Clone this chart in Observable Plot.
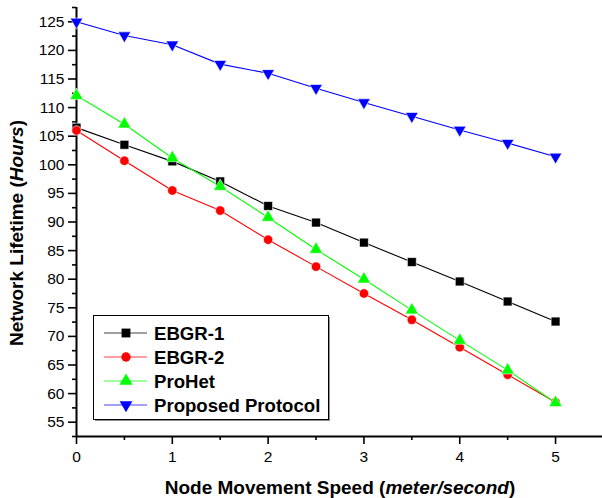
<!DOCTYPE html>
<html>
<head>
<meta charset="utf-8">
<script src="https://cdn.jsdelivr.net/npm/d3@7"></script>
<script src="https://cdn.jsdelivr.net/npm/@observablehq/plot@0.6"></script>
<style>
  html, body { margin: 0; padding: 0; background: #fff; overflow: hidden; }
  #chart { position: relative; width: 602px; height: 498px; }
</style>
</head>
<body>
<div id="chart"></div>
<script>
// ---- data ----
const speed = [0, 0.5, 1, 1.5, 2, 2.5, 3, 3.5, 4, 4.5, 5];
const ebgr1 = [106.5, 103.5, 100.6, 97.1, 92.8, 89.9, 86.4, 83.0, 79.6, 76.1, 72.6];
const ebgr2 = [106.0, 100.7, 95.5, 92.0, 86.9, 82.2, 77.5, 72.9, 68.1, 63.3, 58.5];
const prohet = [112.1, 107.1, 101.2, 96.2, 90.8, 85.2, 80.0, 74.6, 69.3, 64.1, 58.4];
const proposed = [125.0, 122.6, 121.0, 117.6, 116.0, 113.4, 110.9, 108.5, 106.1, 103.8, 101.4];
const seriesNames = ["EBGR-1", "EBGR-2", "ProHet", "Proposed Protocol"];
const seriesColors = ["#000000", "#ff0000", "#00ff00", "#0000ff"];
const yTicks = [55, 60, 65, 70, 75, 80, 85, 90, 95, 100, 105, 110, 115, 120, 125];
const yMinor = [52.5, 57.5, 62.5, 67.5, 72.5, 77.5, 82.5, 87.5, 92.5, 97.5, 102.5, 107.5, 112.5, 117.5, 122.5, 127.5];
const xTicks = [0, 1, 2, 3, 4, 5];
const xMinor = [0.5, 1.5, 2.5, 3.5, 4.5];

const valuesBySeries = [ebgr1, ebgr2, prohet, proposed];
const rows = seriesNames.flatMap((name, i) =>
  speed.map((s, j) => ({ series: name, speed: s, life: valuesBySeries[i][j] })));
const of = name => rows.filter(d => d.series === name);

const font = "'Liberation Sans', Arial, Helvetica, sans-serif";

const plot = Plot.plot({
  width: 602,
  height: 498,
  marginLeft: 76,
  marginRight: 0,
  marginTop: 7,
  marginBottom: 62,
  style: { fontFamily: font, fontSize: "15.5px", color: "#000", background: "#fff", overflow: "visible" },
  x: { domain: [0, 5.49] },
  y: { domain: [52.5, 127.5] },
  color: { domain: seriesNames, range: seriesColors },
  marks: [
    Plot.axisY({ ticks: yTicks, tickSize: 8, tickPadding: 4, strokeWidth: 1.6, label: null, fontSize: 15.5, tickFormat: d => String(d) }),
    Plot.axisY({ ticks: yMinor, tickSize: 4, strokeWidth: 1.6, tickFormat: () => "", label: null }),
    Plot.axisX({ ticks: xTicks, tickSize: 8, tickPadding: 6, strokeWidth: 1.6, label: null, fontSize: 15.5, tickFormat: d => String(d) }),
    Plot.axisX({ ticks: xMinor, tickSize: 4, strokeWidth: 1.6, tickFormat: () => "", label: null }),
    Plot.ruleX([0], { strokeWidth: 2 }),
    Plot.ruleY([52.5], { strokeWidth: 2 }),
    Plot.line(rows, { x: "speed", y: "life", z: "series", stroke: "series", strokeWidth: 1.1 }),
    Plot.dot(of("EBGR-1"), { x: "speed", y: "life", symbol: "square", r: 5, fill: "#000", stroke: "#fff", strokeWidth: 0.6 }),
    Plot.dot(of("EBGR-2"), { x: "speed", y: "life", symbol: "circle", r: 4.7, fill: "#ff0000", stroke: "#fff", strokeWidth: 0.6 }),
    Plot.dot(of("ProHet"), { x: "speed", y: "life", symbol: "triangle", r: 4.9, fill: "#00ff00", stroke: "#fff", strokeWidth: 0.6 }),
    Plot.dot(of("Proposed Protocol"), { x: "speed", y: "life", symbol: "triangle", rotate: 180, r: 4.7, fill: "#0000ff", stroke: "#fff", strokeWidth: 0.6 })
  ]
});

document.getElementById("chart").appendChild(plot);

// ---- axis titles with mixed italic ----
const svg = d3.select(plot);
const ylab = svg.append("text")
  .attr("transform", "translate(23,233) rotate(-90)")
  .attr("text-anchor", "middle")
  .attr("font-family", font).attr("font-weight", "bold").attr("font-size", 19).attr("fill", "#000");
ylab.append("tspan").text("Network Lifetime (");
ylab.append("tspan").attr("font-style", "italic").text("Hours");
ylab.append("tspan").text(")");

const xlab = svg.append("text")
  .attr("x", 340).attr("y", 494)
  .attr("text-anchor", "middle")
  .attr("font-family", font).attr("font-weight", "bold").attr("font-size", 19).attr("fill", "#000");
xlab.append("tspan").text("Node Movement Speed (");
xlab.append("tspan").attr("font-style", "italic").text("meter/second");
xlab.append("tspan").text(")");

// ---- legend ----
const leg = svg.append("g").attr("font-family", font).attr("text-anchor", "start");
leg.append("rect").attr("x", 95).attr("y", 317).attr("width", 235).attr("height", 104).attr("fill", "#909090");
leg.append("rect").attr("x", 93.5).attr("y", 315.5).attr("width", 235).attr("height", 104)
  .attr("fill", "#fff").attr("stroke", "#000").attr("stroke-width", 1);
const legSymbols = [d3.symbolSquare, d3.symbolCircle, d3.symbolTriangle, d3.symbolTriangle];
const legSizes = [78, 70, 75, 70];
seriesNames.forEach((name, i) => {
  const cy = 333 + i * 24;
  leg.append("line").attr("x1", 104).attr("x2", 147).attr("y1", cy).attr("y2", cy)
    .attr("stroke", seriesColors[i]).attr("stroke-width", 1).attr("stroke-opacity", 0.75);
  leg.append("path").attr("d", d3.symbol(legSymbols[i], legSizes[i])())
    .attr("transform", `translate(126,${cy})` + (i === 3 ? " rotate(180)" : ""))
    .attr("fill", seriesColors[i]);
  leg.append("text").attr("x", 154).attr("y", cy + 6.5).attr("text-anchor", "start")
    .attr("font-weight", "bold").attr("font-size", 18.6).attr("fill", "#000").text(name);
});
</script>
</body>
</html>
